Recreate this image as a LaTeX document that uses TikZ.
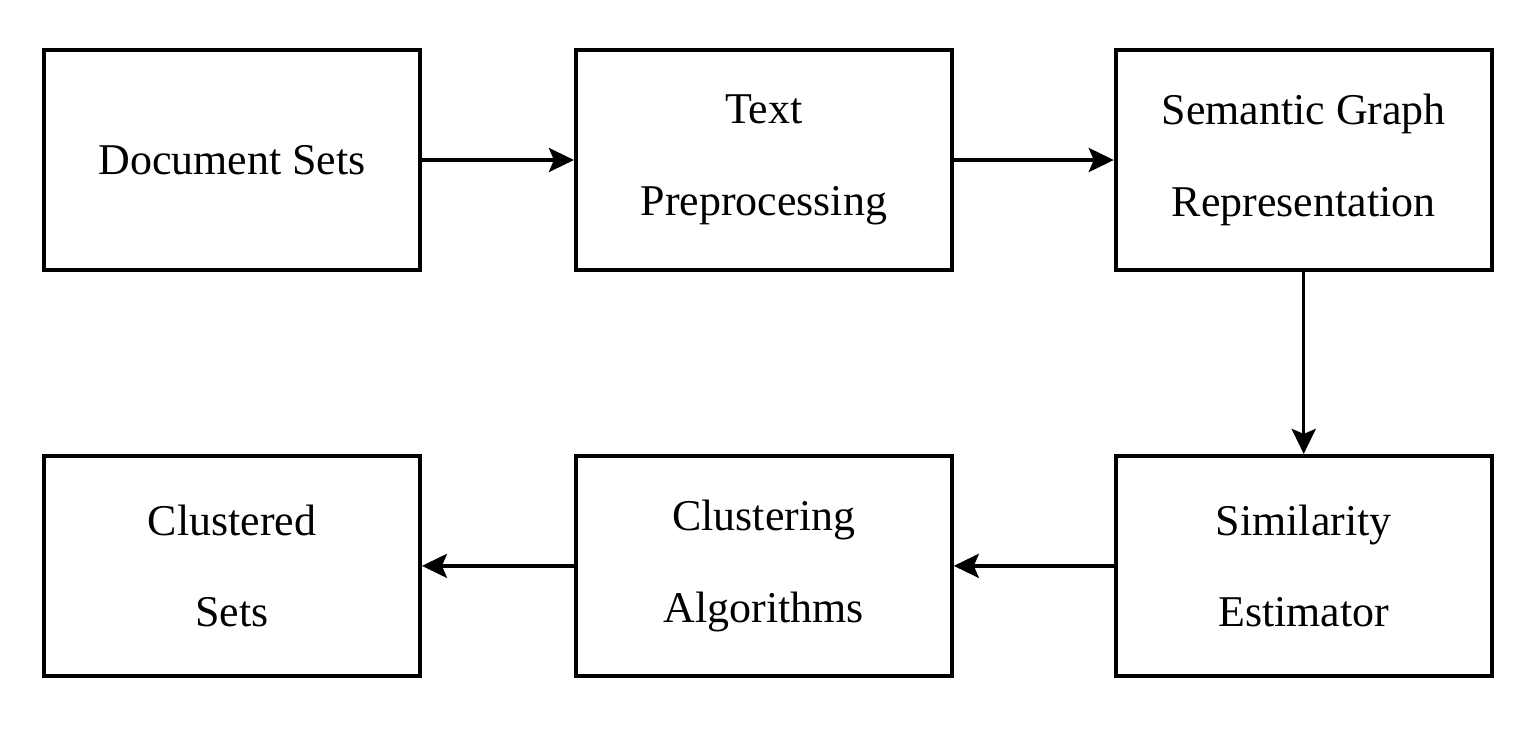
\documentclass[tikz,border=0pt]{standalone}
\usepackage{fontspec}
\setmainfont{Liberation Serif}
\usetikzlibrary{positioning,arrows.meta}
\tikzset{
    every node/.append style={font=\fontsize{25}{52}\selectfont},
    block/.style={draw, line width=2.2pt, minimum width=7.52cm, minimum height=4.4cm, align=center},
    flow/.style={-{Stealth[length=0.5cm,width=0.48cm,inset=0.1cm]}, line width=2pt}}

\begin{document}
\begin{tikzpicture}
    \useasboundingbox (0,0) rectangle (30.64,-14.88);
    \node[block] (docs) at (4.64,-3.2) {Document Sets};
    \node[block, right=3.04cm of docs] (prep) {Text\\Preprocessing};
    \node[block, right=3.2cm of prep] (graph) {Semantic Graph\\Representation};
    \node[block, below=3.64cm of graph] (sim) {Similarity\\Estimator};
    \node[block, left=3.2cm of sim] (algo) {Clustering\\Algorithms};
    \node[block, left=3.04cm of algo] (clust) {Clustered\\Sets};

    \path[flow]
    (docs) edge (prep)
    (prep) edge (graph)
    (graph) edge (sim)
    (sim) edge (algo)
    (algo) edge (clust);
\end{tikzpicture}
\end{document}
